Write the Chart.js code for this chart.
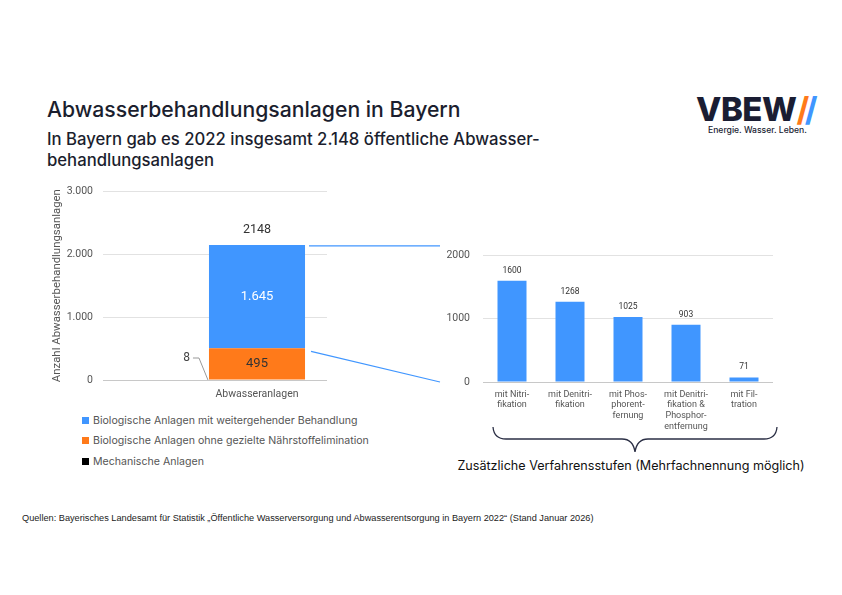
<!DOCTYPE html>
<html lang="de">
<head>
<meta charset="utf-8">
<script src="https://cdn.jsdelivr.net/npm/chart.js@4/dist/chart.umd.min.js"></script>
<style>
  html, body { margin: 0; padding: 0; background: #fff; }
  body { width: 842px; height: 595px; position: relative; overflow: hidden; font-family: Inter, "Noto Sans", sans-serif; color: #1b1e2e; }
  .abs { position: absolute; }
  #title { left: 47px; top: 96px; font-size: 21.2px; font-weight: 500; white-space: nowrap; }
  #subtitle { left: 47px; top: 129px; font-size: 16.7px; font-weight: 500; line-height: 21px; white-space: nowrap; }
  #logo { left: 696px; top: 91px; font-size: 33px; font-weight: 800; letter-spacing: -0.5px; color: #1a1d33; line-height: 36px; }
  #logo .o { color: #ff7a1a; font-weight: 700; }
  #logo .b { color: #4096ff; font-weight: 700; margin-left: -4px; }
  #claim { left: 708px; top: 125px; font-size: 8.6px; color: #1a1d33; font-weight: 500; }
  #leftWrap { left: 45px; top: 175px; width: 290px; height: 229px; }
  #rightWrap { left: 440px; top: 236px; width: 340px; height: 203px; }
  #legend { left: 82px; top: 410px; font-size: 10.6px; color: #555; }
  #legend div { height: 20.5px; display: flex; align-items: center; }
  #legend span.sw { width: 7px; height: 7px; display: inline-block; margin-right: 4px; }
  #note { left: 455px; top: 458px; width: 352px; text-align: center; font-size: 12.6px; color: #111; white-space: nowrap; }
  #source { left: 22px; top: 513px; font-size: 9.2px; color: #222; font-family: "Liberation Sans", Arial, sans-serif; white-space: nowrap; }
  svg.overlay { position: absolute; left: 0; top: 0; }
</style>
</head>
<body>
<div id="title" class="abs">Abwasserbehandlungsanlagen in Bayern</div>
<div id="subtitle" class="abs">In Bayern gab es 2022 insgesamt 2.148 öffentliche Abwasser-<br>behandlungsanlagen</div>
<div id="logo" class="abs">VBEW<span class="o">/</span><span class="b">/</span></div>
<div id="claim" class="abs">Energie. Wasser. Leben.</div>

<div id="leftWrap" class="abs"><canvas id="left"></canvas></div>
<div id="rightWrap" class="abs"><canvas id="right"></canvas></div>
<div id="legend" class="abs"></div>
<div id="note" class="abs">Zusätzliche Verfahrensstufen (Mehrfachnennung möglich)</div>
<div id="source" class="abs">Quellen: Bayerisches Landesamt für Statistik „Öffentliche Wasserversorgung und Abwasserentsorgung in Bayern 2022“ (Stand Januar 2026)</div>

<svg class="overlay" width="842" height="595">
  <line id="conTop" stroke="#4096ff" stroke-width="1.2" />
  <line id="conBottom" stroke="#4096ff" stroke-width="1.2" />
  <path d="M493 427 Q494 439 506 439 L622 439 Q633 439 635 452 Q637 439 648 439 L764 439 Q776 439 777 427"
        fill="none" stroke="#2b2f45" stroke-width="1.3" />
</svg>

<script>
// left chart: plants by type (stacked)
const plantCategories = ["Abwasseranlagen"];
const mechanical = [8];
const bioBasic = [495];
const bioAdvanced = [1645];
const plantTotal = [2148];
const plantTicks = [0, 1000, 2000, 3000];

// right chart: additional treatment stages
const stageLabels = [
  ["mit Nitri-", "fikation"],
  ["mit Denitri-", "fikation"],
  ["mit Phos-", "phorent-", "fernung"],
  ["mit Denitri-", "fikation &", "Phosphor-", "entfernung"],
  ["mit Fil-", "tration"]
];
const stageValues = [1600, 1268, 1025, 903, 71];
const stageTicks = [0, 1000, 2000];

const BLUE = "#4096ff";
const ORANGE = "#ff7a1a";
const BLACK = "#000000";

const de = v => String(v).replace(/\B(?=(\d{3})+(?!\d))/g, ".");

// legend (top to bottom like the original)
const legendItems = [
  ["Biologische Anlagen mit weitergehender Behandlung", BLUE],
  ["Biologische Anlagen ohne gezielte Nährstoffelimination", ORANGE],
  ["Mechanische Anlagen", BLACK]
];
document.getElementById("legend").innerHTML = legendItems
  .map(([t, c]) => `<div><span class="sw" style="background:${c}"></span>${t}</div>`)
  .join("");

const gridColor = ctx => (ctx.tick && ctx.tick.value === 0 ? "#c8c8c8" : "#e2e2e2");

// value labels for the stacked bar
const stackLabelPlugin = {
  id: "stackLabels",
  afterDatasetsDraw(chart) {
    const ctx = chart.ctx;
    const y0 = chart.scales.y.getPixelForValue(0);
    ctx.save();
    ctx.font = "12px Roboto, sans-serif";
    ctx.textAlign = "center";
    ctx.textBaseline = "middle";

    const mech = chart.getDatasetMeta(0).data[0];
    const basic = chart.getDatasetMeta(1).data[0];
    const adv = chart.getDatasetMeta(2).data[0];
    const barLeft = mech.x - mech.width / 2;

    // small mechanical value with leader line
    ctx.strokeStyle = "#999";
    ctx.lineWidth = 1;
    ctx.beginPath();
    ctx.moveTo(barLeft - 16, y0 - 22);
    ctx.lineTo(barLeft - 10, y0 - 22);
    ctx.lineTo(barLeft - 1, y0);
    ctx.stroke();
    ctx.fillStyle = "#444";
    ctx.textAlign = "right";
    ctx.fillText(de(mechanical[0]), barLeft - 19, y0 - 22);

    ctx.textAlign = "center";
    ctx.fillStyle = "#333";
    ctx.font = "13px Roboto, sans-serif";
    ctx.fillText(de(bioBasic[0]), basic.x, (basic.y + basic.base) / 2);
    ctx.fillStyle = "#fff";
    ctx.fillText(de(bioAdvanced[0]), adv.x, (adv.y + adv.base) / 2);
    ctx.fillStyle = "#333";
    ctx.font = "12.5px Roboto, sans-serif";
    ctx.fillText(String(plantTotal[0]), adv.x, adv.y - 15);
    ctx.restore();
  }
};

const leftChart = new Chart(document.getElementById("left"), {
  type: "bar",
  data: {
    labels: plantCategories,
    datasets: [
      { label: legendItems[2][0], data: mechanical, backgroundColor: BLACK },
      { label: legendItems[1][0], data: bioBasic, backgroundColor: ORANGE },
      { label: legendItems[0][0], data: bioAdvanced, backgroundColor: BLUE }
    ]
  },
  options: {
    animation: false,
    responsive: true,
    maintainAspectRatio: false,
    layout: { padding: { top: 1, right: 8 } },
    plugins: { legend: { display: false }, tooltip: { enabled: false } },
    datasets: { bar: { barPercentage: 0.686, categoryPercentage: 1 } },
    scales: {
      x: {
        stacked: true,
        grid: { display: false, drawTicks: false },
        border: { display: false },
        ticks: { color: "#555", font: { family: "Roboto", size: 10.5 }, padding: 8 },
        afterFit: s => { s.height = 24; }
      },
      y: {
        stacked: true,
        min: 0,
        max: 3000,
        afterBuildTicks: s => { s.ticks = plantTicks.map(v => ({ value: v })); },
        ticks: { color: "#555", font: { family: "Roboto", size: 10.5 }, padding: 10, callback: v => de(v) },
        grid: { color: gridColor, tickColor: gridColor, tickLength: 84 },
        border: { display: false },
        title: {
          display: true,
          text: "Anzahl Abwasserbehandlungsanlagen",
          color: "#555",
          font: { family: "Roboto", size: 11.4 },
          padding: { top: 5, bottom: 0 }
        },
        afterFit: s => { s.width = 142; }
      }
    }
  },
  plugins: [stackLabelPlugin]
});

// value labels for the stage bars + connector lines between charts
const stageLabelPlugin = {
  id: "stageLabels",
  afterDatasetsDraw(chart) {
    const ctx = chart.ctx;
    ctx.save();
    ctx.font = "8.5px Roboto, sans-serif";
    ctx.fillStyle = "#333";
    ctx.textAlign = "center";
    ctx.textBaseline = "bottom";
    chart.getDatasetMeta(0).data.forEach((bar, i) => {
      ctx.fillText(String(stageValues[i]), bar.x, bar.y - 6);
    });
    ctx.restore();
  },
  afterRender(chart) {
    const lw = document.getElementById("leftWrap");
    const rw = document.getElementById("rightWrap");
    const adv = leftChart.getDatasetMeta(2).data[0];
    const basic = leftChart.getDatasetMeta(1).data[0];
    const x1 = lw.offsetLeft + adv.x + adv.width / 2 + 4;
    const xEnd = rw.offsetLeft;
    const top = document.getElementById("conTop");
    top.setAttribute("x1", x1); top.setAttribute("y1", lw.offsetTop + adv.y + 1);
    top.setAttribute("x2", xEnd); top.setAttribute("y2", lw.offsetTop + adv.y + 1);
    const bot = document.getElementById("conBottom");
    bot.setAttribute("x1", x1 + 2); bot.setAttribute("y1", lw.offsetTop + basic.y + 3);
    bot.setAttribute("x2", xEnd); bot.setAttribute("y2", rw.offsetTop + chart.scales.y.getPixelForValue(0));
  }
};

new Chart(document.getElementById("right"), {
  type: "bar",
  data: {
    labels: stageLabels,
    datasets: [{ data: stageValues, backgroundColor: BLUE, barPercentage: 0.5, categoryPercentage: 1 }]
  },
  options: {
    animation: false,
    responsive: true,
    maintainAspectRatio: false,
    layout: { padding: { top: 3, right: 7 } },
    plugins: { legend: { display: false }, tooltip: { enabled: false } },
    scales: {
      x: {
        grid: { display: false, drawTicks: false },
        border: { display: false },
        ticks: { color: "#555", font: { family: "Roboto", size: 9, lineHeight: 1.2 }, padding: 7, maxRotation: 0, autoSkip: false },
        afterFit: s => { s.height = 57; }
      },
      y: {
        min: 0,
        max: 2000,
        afterBuildTicks: s => { s.ticks = stageTicks.map(v => ({ value: v })); },
        ticks: { color: "#555", font: { family: "Roboto", size: 10.5 }, padding: 13, callback: v => String(v) },
        grid: { color: gridColor, drawTicks: false },
        border: { display: false },
        afterFit: s => { s.width = 43; }
      }
    }
  },
  plugins: [stageLabelPlugin]
});
</script>
</body>
</html>
